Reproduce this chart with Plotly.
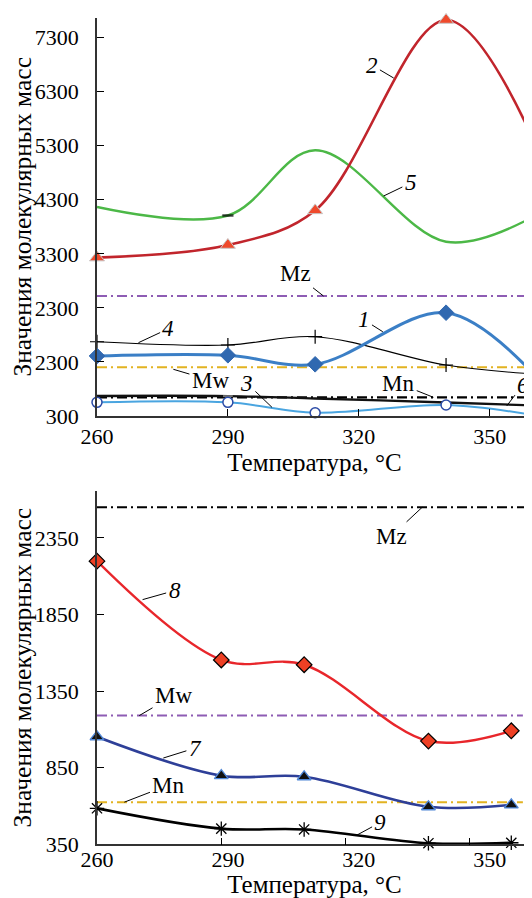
import plotly.graph_objects as go

# ---------------- data ----------------
temps = [260, 290, 310, 340, 360]

# top panel series
s1 = [1410, 1423, 1256, 2211, 1080]   # 1 blue diamonds
s2 = [3230, 3463, 4103, 7625, 5415]   # 2 red triangles
s3 = [553, 553, 361, 503, 318]        # 3 light blue open circles
s4 = [1674, 1613, 1767, 1243, 1077]   # 4 thin black crosses
s5 = [4166, 4009, 5215, 3524, 3987]   # 5 green
s6 = [670, 668, 625, 550, 495]        # 6 thick black
top_mz = 2520
top_mw = 1200
top_mn = 646

# bottom panel series
s7 = [1052, 798, 791, 595, 607]       # 7 navy triangles
s8 = [2198, 1553, 1522, 1024, 1091]   # 8 red diamonds
s9 = [585, 452, 447, 357, 360]        # 9 black asterisks
bot_mz = 2550
bot_mw = 1190
bot_mn = 625

top_tickvals = [300, 1300, 2300, 3300, 4300, 5300, 6300, 7300]
top_ticktext = ["300", "2300", "2300", "3300", "4300", "5300", "6300", "7300"]
bot_tickvals = [350, 850, 1350, 1850, 2350]
bot_ticktext = ["350", "850", "1350", "1850", "2350"]
x_tickvals = [260, 290, 320, 350]
x_ticktext = ["260", "290", "320", "350"]

x_title = "Температура, °C"
y_title = "Значения молекулярных масс"

FONT = "Liberation Serif, Times New Roman, DejaVu Serif, serif"
OFF = 8            # page body margin of the html page
W, H = 532 - OFF, 898 - OFF
L = 96.7 - OFF

fig = go.Figure()

def spline(x, y, color, width, xa, ya, marker=None, mode="lines"):
    fig.add_trace(go.Scatter(
        x=x, y=y, mode=mode, xaxis=xa, yaxis=ya,
        line=dict(color=color, width=width, shape="spline", smoothing=1),
        marker=marker, cliponaxis=False, showlegend=False, hoverinfo="skip"))

def hline(x0, x1, yv, color, width, xa, ya):
    fig.add_trace(go.Scatter(
        x=[x0, x1], y=[yv, yv], mode="lines", xaxis=xa, yaxis=ya,
        line=dict(color=color, width=width, dash="10px,4px,2px,4px"),
        showlegend=False, hoverinfo="skip"))

# ---- top panel ----
hline(260, 358, top_mz, "#8e5cb4", 2, "x", "y")
hline(260, 362, top_mw, "#e2b322", 2, "x", "y")
hline(260, 358, top_mn, "#000000", 2.2, "x", "y")
spline(temps, s6, "#111111", 2.4, "x", "y",
       marker=dict(symbol="line-ew", size=[0, 7, 0, 0, 0],
                   line=dict(color="#9a9a9a", width=2)), mode="lines+markers")
spline(temps, s5, "#4cb847", 2.4, "x", "y",
       marker=dict(symbol="line-ew", size=[0, 8, 0, 0, 0],
                   line=dict(color="#000000", width=2.5)), mode="lines+markers")
spline(temps, s4, "#000000", 1.1, "x", "y",
       marker=dict(symbol="cross-thin", size=10, line=dict(color="#000000", width=1.2)),
       mode="lines+markers")
spline(temps, s3, "#4aa5e0", 2, "x", "y",
       marker=dict(symbol="circle", size=10, color="white",
                   line=dict(color="#2b4ba6", width=1.5)), mode="lines+markers")
spline(temps, s1, "#3b7fc6", 3, "x", "y",
       marker=dict(symbol="diamond", size=12, color="#3068b0",
                   line=dict(color="#3068b0", width=1)), mode="lines+markers")
spline(temps, s2, "#c1252c", 2.6, "x", "y",
       marker=dict(symbol="triangle-up", size=13, color="#ef4a2c",
                   line=dict(color="#c8c8c8", width=1)), mode="lines+markers")

# ---- bottom panel ----
hline(260, 365, bot_mz, "#000000", 2, "x2", "y2")
hline(260, 362.8, bot_mw, "#8e5cb4", 2, "x2", "y2")
hline(260, 362.8, bot_mn, "#e2b322", 2, "x2", "y2")
spline(temps, s9, "#000000", 2.6, "x2", "y2",
       marker=dict(symbol="asterisk-open", size=12, line=dict(color="#000000", width=1.3)),
       mode="lines+markers")
spline(temps, s7, "#2e3f98", 2.6, "x2", "y2",
       marker=dict(symbol="triangle-up", size=12, color="#111111",
                   line=dict(color="#4f86d6", width=1.3)), mode="lines+markers")
spline(temps, s8, "#e8262b", 2.4, "x2", "y2",
       marker=dict(symbol="diamond", size=12, color="#ee4024",
                   line=dict(color="#000000", width=1.2)), mode="lines+markers")
# invisible trace so that the label axis of the lower panel is drawn
fig.add_trace(go.Scatter(x=[x_tickvals[0]], y=[bot_tickvals[0]], xaxis="x3", yaxis="y2",
                         mode="markers", marker=dict(opacity=0), showlegend=False,
                         hoverinfo="skip"))

# ---------------- annotations (curve labels) ----------------
def lab(text, x, y, ax, ay, xref, yref, italic=True):
    fig.add_annotation(
        x=x, y=y, xref=xref, yref=yref, ax=ax, ay=ay,
        text=f"<i>{text}</i>" if italic else text,
        showarrow=True, arrowhead=0, arrowwidth=1, arrowcolor="#000000",
        standoff=0, startstandoff=2, borderpad=0,
        font=dict(family=FONT, size=23, color="#000000"))

lab("2", 328.0, 6552, -22, -13, "x", "y")
lab("5", 325.7, 4370, 27, -13, "x", "y")
lab("4", 269.5, 1656, 30, -14, "x", "y")
lab("1", 325.5, 1859, -19, -12, "x", "y")
lab("Mz", 311.9, top_mz, -28, -22, "x", "y", italic=False)
lab("Mw", 277.5, 1164, 37, 11, "x", "y", italic=False)
lab("3", 300.1, 461, -25, -24, "x", "y")
lab("Mn", 337.1, top_mn, -35, -14, "x", "y", italic=False)
lab("6", 353.9, 485, 16, -21, "x", "y")

lab("Mz", 338.5, bot_mz, -31, 29, "x2", "y2", italic=False)
lab("8", 271.0, 1947, 32, -9, "x2", "y2")
lab("Mw", 270.2, bot_mw, 34, -20, "x2", "y2", italic=False)
lab("7", 276.0, 913, 32, -10, "x2", "y2")
lab("Mn", 266.6, bot_mn, 44, -17, "x2", "y2", italic=False)
lab("9", 322.6, 408, 24, -13, "x2", "y2")

# ---------------- axes ----------------
def ypx(p):
    return 1 - (p - OFF) / H

axis_common = dict(showline=True, linecolor="#333333", linewidth=1.5,
                   ticks="inside", ticklen=7, tickcolor="#000000", tickwidth=1,
                   showgrid=False, zeroline=False,
                   tickfont=dict(family=FONT, size=22, color="#000000"))

xtitle_font = dict(family=FONT, size=25, color="#000000")
ytitle_font = dict(family=FONT, size=25.5, color="#000000")

fig.update_layout(
    width=W, height=H,
    margin=dict(l=L, r=0, t=0, b=0, pad=0),
    paper_bgcolor="white", plot_bgcolor="white",
    font=dict(family=FONT),
    showlegend=False,
    xaxis=dict(anchor="y", domain=[0, 1], range=[260, 359.7],
               tickvals=x_tickvals, ticktext=x_ticktext,
               title=dict(text=x_title, font=xtitle_font, standoff=0),
               automargin=False, **axis_common),
    yaxis=dict(anchor="x", domain=[ypx(416), ypx(17.6)], range=[300, 7670],
               tickvals=top_tickvals, ticktext=top_ticktext,
               title=dict(text=y_title, font=ytitle_font, standoff=5),
               ticklabelstandoff=12, automargin=False, **axis_common),
    xaxis2=dict(anchor="y2", domain=[0, 1], range=[260, 365],
                tickvals=x_tickvals, showticklabels=False,
                automargin=False, **axis_common),
    xaxis3=dict(anchor="y2", overlaying="x2", domain=[0, 1], range=[260, 359.7],
                tickvals=x_tickvals, ticktext=x_ticktext,
                showline=False, ticks="", showgrid=False, zeroline=False,
                tickfont=dict(family=FONT, size=22, color="#000000"),
                title=dict(text=x_title, font=xtitle_font, standoff=2),
                automargin=False),
    yaxis2=dict(anchor="x2", domain=[ypx(844.3), ypx(491)], range=[350, 2656],
                tickvals=bot_tickvals, ticktext=bot_ticktext,
                title=dict(text=y_title, font=ytitle_font, standoff=5),
                ticklabelstandoff=12, automargin=False, **axis_common),
)

fig.write_html("out.html")
